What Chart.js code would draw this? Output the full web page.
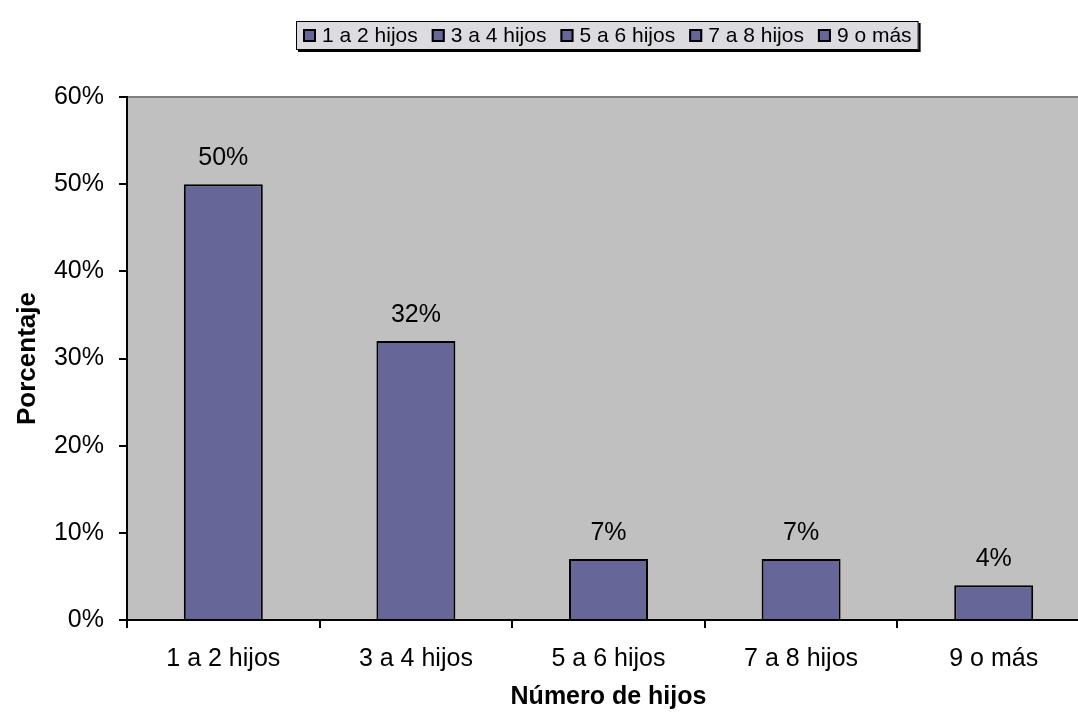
<!DOCTYPE html>
<html>
<head>
<meta charset="utf-8">
<script src="https://cdn.jsdelivr.net/npm/chart.js"></script>
<style>
  body { margin: 0; overflow: hidden; background: #fff; }
  #wrap { width: 1100px; height: 715px; position: relative; }
</style>
</head>
<body>
<div id="wrap"><canvas id="myChart"></canvas></div>
<script>
// data
var categorias = ["1 a 2 hijos", "3 a 4 hijos", "5 a 6 hijos", "7 a 8 hijos", "9 o más"];
var porcentajes = [50, 32, 7, 7, 4];
var yTicks = [0, 10, 20, 30, 40, 50, 60];

var fuente = "'Liberation Sans', Arial, sans-serif";
var colorBarra = '#666699';

// grey plot area with its top border
var fondoPlot = {
    id: 'fondoPlot',
    beforeDraw: function(chart) {
        var ctx = chart.ctx, a = chart.chartArea;
        ctx.save();
        ctx.fillStyle = '#c0c0c0';
        ctx.fillRect(a.left, a.top, a.right - a.left, a.bottom - a.top);
        ctx.strokeStyle = '#808080';
        ctx.lineWidth = 2;
        ctx.beginPath();
        ctx.moveTo(a.left, a.top);
        ctx.lineTo(a.right, a.top);
        ctx.stroke();
        ctx.restore();
    }
};

// value labels over the bars
var etiquetas = {
    id: 'etiquetas',
    afterDatasetsDraw: function(chart) {
        var ctx = chart.ctx;
        var meta = chart.getDatasetMeta(0);
        ctx.save();
        ctx.font = '25px ' + fuente;
        ctx.fillStyle = '#000';
        ctx.textAlign = 'center';
        ctx.textBaseline = 'middle';
        meta.data.forEach(function(bar, i) {
            ctx.fillText(porcentajes[i] + '%', bar.x, bar.y - 26);
        });
        ctx.restore();
    }
};

// legend box like the original (one entry per category)
var leyenda = {
    id: 'leyenda',
    afterDraw: function(chart) {
        var ctx = chart.ctx;
        ctx.save();
        ctx.font = '21px ' + fuente;
        var cuadro = 13, hueco = 6, sep = 14, pad = 7;
        var anchos = categorias.map(function(c) { return ctx.measureText(c).width; });
        var total = pad * 2;
        anchos.forEach(function(w, i) { total += cuadro + hueco + w + (i < anchos.length - 1 ? sep : 0); });
        var cx = 607, top = 21, alto = 29;
        var x0 = Math.round(cx - total / 2);
        // shadow
        ctx.fillStyle = '#000';
        ctx.fillRect(x0 + 2, top + 2, total, alto);
        ctx.fillStyle = '#dcdce0';
        ctx.fillRect(x0, top, total, alto);
        ctx.strokeStyle = '#000';
        ctx.lineWidth = 1;
        ctx.strokeRect(x0 + 0.5, top + 0.5, total - 1, alto - 1);
        var x = x0 + pad, ym = top + alto / 2;
        ctx.textBaseline = 'middle';
        categorias.forEach(function(c, i) {
            ctx.fillStyle = colorBarra;
            ctx.fillRect(x, ym - cuadro / 2, cuadro, cuadro);
            ctx.strokeStyle = '#000';
            ctx.lineWidth = 2;
            ctx.strokeRect(x + 1, ym - cuadro / 2 + 1, cuadro - 2, cuadro - 2);
            ctx.fillStyle = '#000';
            ctx.fillText(c, x + cuadro + hueco, ym + 1);
            x += cuadro + hueco + anchos[i] + sep;
        });
        ctx.restore();
    }
};

const ctx = document.getElementById('myChart').getContext('2d');
const myChart = new Chart(ctx, {
    type: 'bar',
    data: {
        labels: categorias,
        datasets: [{
            label: 'Porcentaje',
            data: porcentajes,
            backgroundColor: colorBarra,
            borderColor: '#000',
            borderWidth: 2,
            borderSkipped: 'bottom',
            barPercentage: 0.41,
            categoryPercentage: 1
        }]
    },
    options: {
        responsive: true,
        maintainAspectRatio: false,
        animation: false,
        layout: { padding: { top: 97, right: 10, bottom: 0, left: 0 } },
        plugins: {
            legend: { display: false },
            tooltip: { enabled: false }
        },
        scales: {
            x: {
                offset: true,
                grid: { offset: true, drawOnChartArea: false, color: '#000', lineWidth: 2, tickLength: 8 },
                border: { color: '#000', width: 2 },
                ticks: { color: '#000', font: { family: fuente, size: 25 }, padding: 16, maxRotation: 0 },
                title: { display: true, text: 'Número de hijos', color: '#000',
                         font: { family: fuente, size: 25, weight: 'bold' }, padding: { top: 0, bottom: 3 } },
                afterFit: function(s) { s.height = 95; }
            },
            y: {
                min: 0,
                max: 60,
                afterBuildTicks: function(s) { s.ticks = yTicks.map(function(v) { return { value: v }; }); },
                grid: { drawOnChartArea: false, color: '#000', lineWidth: 2, tickLength: 8 },
                border: { color: '#000', width: 2 },
                ticks: { color: '#000', font: { family: fuente, size: 25 }, padding: 15,
                         callback: function(v) { return v + '%'; } },
                title: { display: true, text: 'Porcentaje', color: '#000',
                         font: { family: fuente, size: 26, weight: 'bold' }, padding: { top: 12, bottom: 0 } },
                afterFit: function(s) { s.width = 127; }
            }
        }
    },
    plugins: [fondoPlot, etiquetas, leyenda]
});
</script>
</body>
</html>
